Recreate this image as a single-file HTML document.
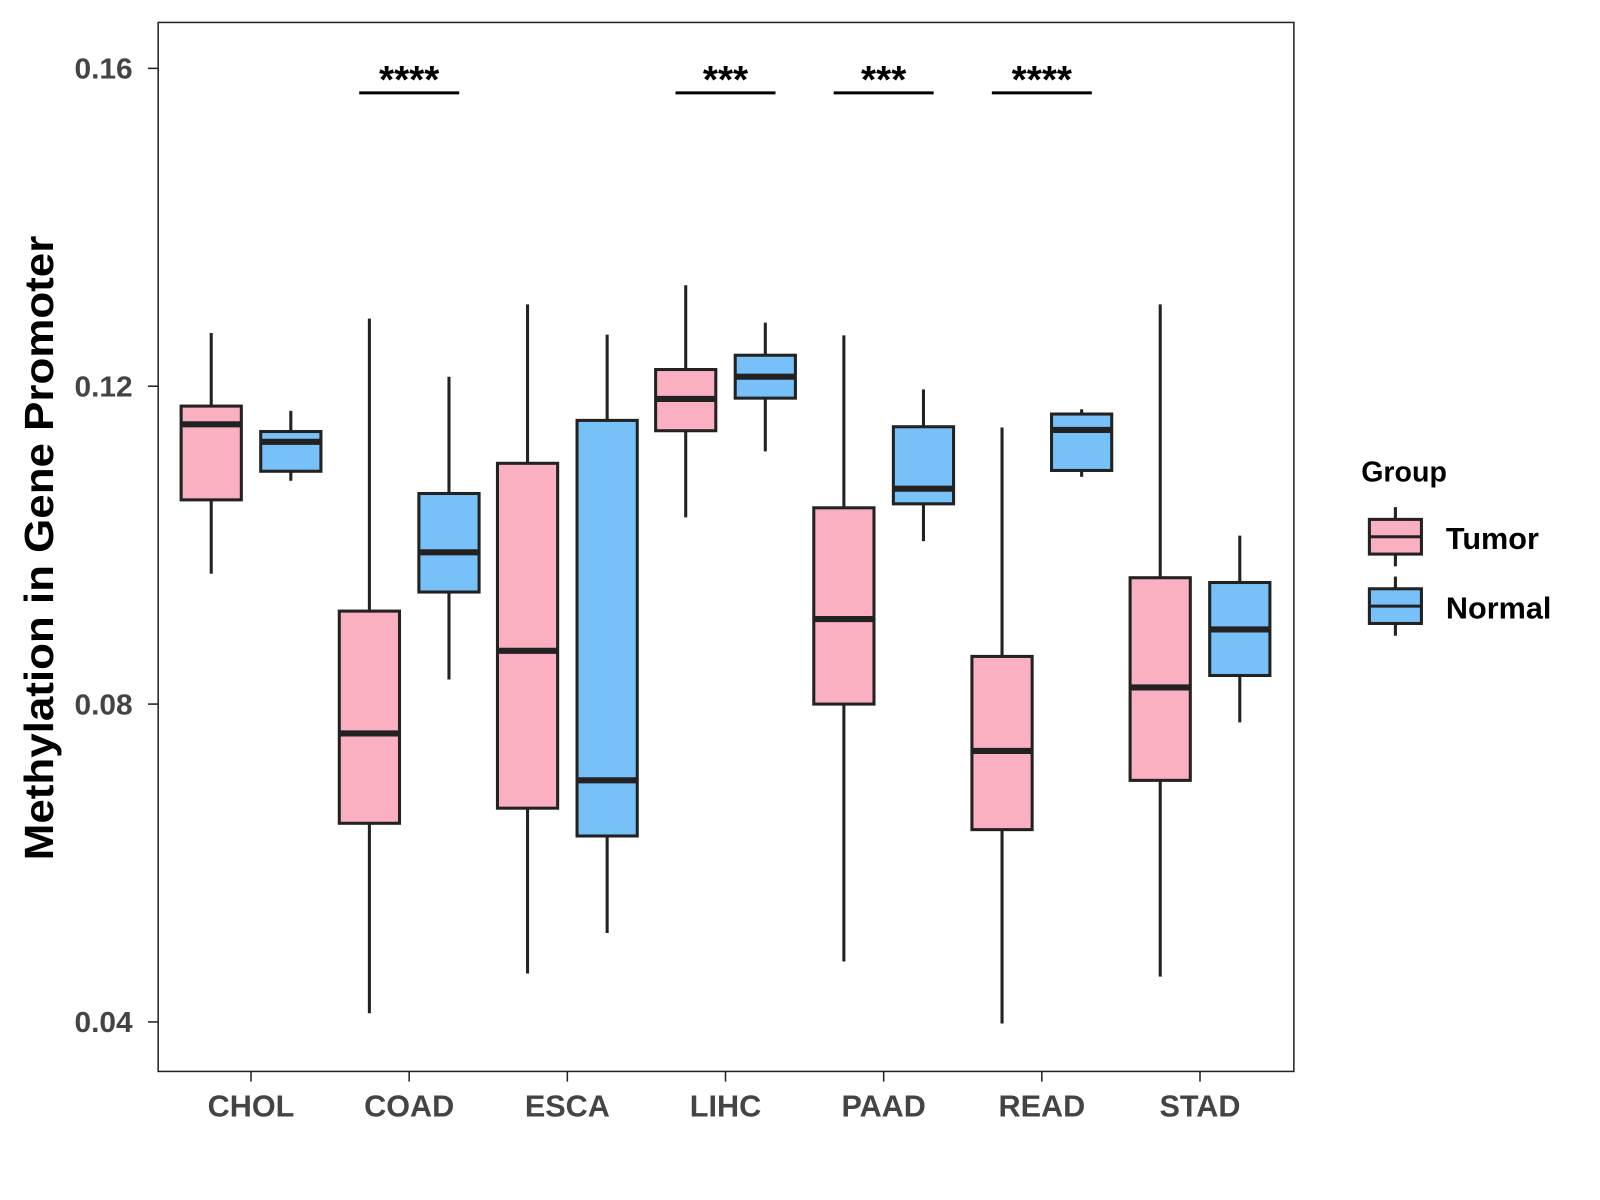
<!DOCTYPE html>
<html><head><meta charset="utf-8"><style>
body{margin:0;background:#fff}
svg{display:block;font-family:"Liberation Sans",Arial,sans-serif}
</style></head><body>
<svg id="chart" width="1600" height="1200" viewBox="0 0 1568 1176" xmlns="http://www.w3.org/2000/svg">
<rect width="1568" height="1176" fill="#fff"/>
<g id="plot"></g>
<rect x="155" y="22" width="1113" height="1028" fill="none" stroke="#222" stroke-width="1.5"/>
<text transform="translate(52,537) rotate(-90)" text-anchor="middle" font-size="40" font-weight="bold" fill="#000" textLength="612" lengthAdjust="spacingAndGlyphs">Methylation in Gene Promoter</text>
<g>
<text x="1334" y="472" font-size="28" font-weight="bold">Group</text>
<g>
<line x1="1367.5" y1="497" x2="1367.5" y2="555" stroke="#222" stroke-width="3"/>
<rect x="1342" y="509" width="51" height="34" fill="#fbb0c1" stroke="#222" stroke-width="3"/>
<line x1="1342" y1="526" x2="1393" y2="526" stroke="#222" stroke-width="3"/>
<text x="1417" y="538" font-size="30" font-weight="bold">Tumor</text></g>
<g>
<line x1="1367.5" y1="565" x2="1367.5" y2="623" stroke="#222" stroke-width="3"/>
<rect x="1342" y="577" width="51" height="34" fill="#78c1f8" stroke="#222" stroke-width="3"/>
<line x1="1342" y1="594" x2="1393" y2="594" stroke="#222" stroke-width="3"/>
<text x="1417" y="606" font-size="30" font-weight="bold">Normal</text></g>
</g>
</svg>
<script>
const categories=["CHOL","COAD","ESCA","LIHC","PAAD","READ","STAD"];
// [lowWhisker, Q1, median, Q3, highWhisker]
const tumorStats=[[0.0964,0.1057,0.1152,0.1175,0.1267],[0.0411,0.0650,0.0763,0.0917,0.1285],[0.0461,0.0669,0.0867,0.1103,0.1303],[0.1035,0.1144,0.1184,0.1221,0.1327],[0.0476,0.0800,0.0907,0.1047,0.1264],[0.0398,0.0642,0.0741,0.0860,0.1148],[0.0457,0.0704,0.0821,0.0959,0.1303]];
const normalStats=[[0.1081,0.1093,0.1130,0.1143,0.1169],[0.0831,0.0941,0.0991,0.1065,0.1212],[0.0512,0.0634,0.0704,0.1157,0.1265],[0.1118,0.1185,0.1212,0.1239,0.1280],[0.1005,0.1052,0.1071,0.1149,0.1196],[0.1086,0.1094,0.1145,0.1165,0.1171],[0.0777,0.0836,0.0894,0.0953,0.1012]];
const significance=["","****","","***","***","****",""];
const yTicks=[0.04,0.08,0.12,0.16];
const yTickLabels=["0.04","0.08","0.12","0.16"];
const NS="http://www.w3.org/2000/svg";
const g=document.getElementById("plot");
function y(v){return 67+(0.16-v)/0.04*311.5;}
function x(i){return 246+i*155;}
function mk(tag,attrs,parent){const e=document.createElementNS(NS,tag);for(const k in attrs)e.setAttribute(k,attrs[k]);(parent||g).appendChild(e);return e;}
yTicks.forEach((t,k)=>{
  const l=mk("line",{x1:145,x2:155,y1:y(t),y2:y(t),stroke:"#222","stroke-width":1.5});
  
  
  const tx=mk("text",{x:73,y:y(t)+10,"font-size":28,"font-weight":"bold",fill:"#444",textLength:57,lengthAdjust:"spacingAndGlyphs"});
  tx.textContent=yTickLabels[k];
  
  
});
categories.forEach((c,i)=>{
  const l=mk("line",{x1:x(i),x2:x(i),y1:1050,y2:1060,stroke:"#222","stroke-width":1.5});
  
  
  const tx=mk("text",{x:x(i),y:1094,"text-anchor":"middle","font-size":30,"font-weight":"bold",fill:"#444"});
  tx.textContent=c;
  
  
  [[tumorStats[i],-39,"#fbb0c1","tumor"],[normalStats[i],39,"#78c1f8","normal"]].forEach(([s,off,col,nm])=>{
    const cx=x(i)+off,w=59;
    const bg=mk("g",{});
    
    
    mk("line",{x1:cx,x2:cx,y1:y(s[4]),y2:y(s[3]),stroke:"#222","stroke-width":3},bg);
    mk("line",{x1:cx,x2:cx,y1:y(s[1]),y2:y(s[0]),stroke:"#222","stroke-width":3},bg);
    mk("rect",{x:cx-w/2,y:y(s[3]),width:w,height:y(s[1])-y(s[3]),fill:col,stroke:"#222","stroke-width":3},bg);
    mk("line",{x1:cx-w/2,x2:cx+w/2,y1:y(s[2]),y2:y(s[2]),stroke:"#222","stroke-width":6},bg);
  });
  if(significance[i]){
    const sg=mk("g",{});
    
    
    mk("line",{x1:x(i)-49,x2:x(i)+49,y1:91,y2:91,stroke:"#000","stroke-width":3},sg);
    const st=mk("text",{x:x(i),y:91,"text-anchor":"middle","font-size":38,"font-weight":"bold",fill:"#000"},sg);
    st.textContent=significance[i];
  }
});
</script>
</body></html>
